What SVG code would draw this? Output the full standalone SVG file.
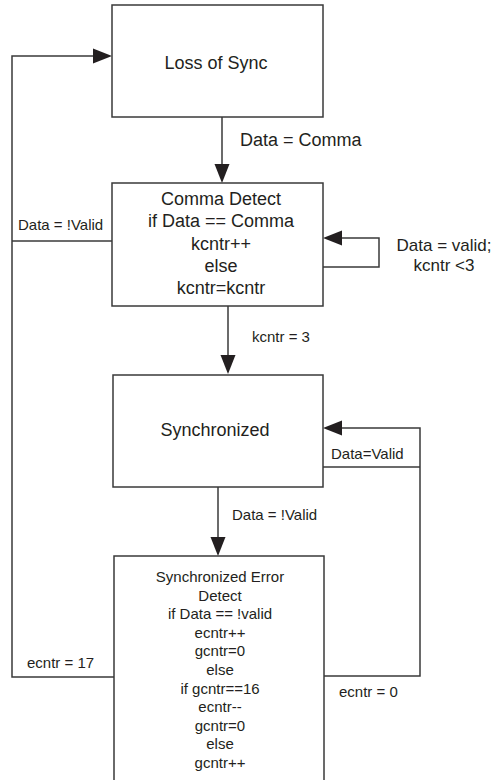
<svg xmlns="http://www.w3.org/2000/svg" width="497" height="780" viewBox="0 0 497 780">
<defs>
<style>
.box{fill:#fff;stroke:#3a3a3a;stroke-width:1.5}
.ln{fill:none;stroke:#3a3a3a;stroke-width:1.5}
.ah{fill:#231f20}
text{font-family:"Liberation Sans",Arial,sans-serif;fill:#231f20}
.big{font-size:18px}
.mid{font-size:17px}
.sm{font-size:15px}
.c{text-anchor:middle}
</style>
</defs>
<rect width="497" height="780" fill="#fff"/>
<g id="connectors">
<!-- Loss of Sync -> Comma Detect -->
<line class="ln" x1="222" y1="117" x2="222" y2="165"/>
<polygon class="ah" points="214.5,164 229.5,164 222,183"/>
<text class="big" x="240" y="146">Data = Comma</text>
<!-- return path to Loss of Sync -->
<polyline class="ln" points="112,241 12,241"/>
<polyline class="ln" points="114,677 12,677 12,56 94,56"/>
<polygon class="ah" points="93,48.5 93,63.5 112,56"/>
<text class="sm" x="18" y="230">Data = !Valid</text>
<text class="sm" x="27" y="668">ecntr = 17</text>
<!-- self loop on Comma Detect -->
<polyline class="ln" points="323,267 379,267 379,238 341,238"/>
<polygon class="ah" points="342,230.5 342,245.5 323,238"/>
<text class="mid c" x="444" y="251">Data = valid;</text>
<text class="mid c" x="444" y="271">kcntr &lt;3</text>
<!-- Comma Detect -> Synchronized -->
<line class="ln" x1="228" y1="306" x2="228" y2="356"/>
<polygon class="ah" points="220.5,355 235.5,355 228,374"/>
<text class="sm" x="252" y="342">kcntr = 3</text>
<!-- Synchronized -> Error Detect -->
<line class="ln" x1="218" y1="487" x2="218" y2="538"/>
<polygon class="ah" points="210.5,537 225.5,537 218,556"/>
<text class="sm" x="232" y="520">Data = !Valid</text>
<!-- returns to Synchronized -->
<polyline class="ln" points="323,467 420,467"/>
<polyline class="ln" points="324,676 420,676 420,428 341,428"/>
<polygon class="ah" points="342,420.5 342,435.5 323,428"/>
<text class="sm" x="331" y="459">Data=Valid</text>
<text class="sm" x="339" y="697">ecntr = 0</text>
</g>
<g id="loss-of-sync">
<rect class="box" x="112" y="5" width="211" height="112"/>
<text class="big c" x="216" y="69">Loss of Sync</text>
</g>
<g id="comma-detect">
<rect class="box" x="112" y="183" width="211" height="123"/>
<text class="big c" x="221" y="205">Comma Detect</text>
<text class="big c" x="221" y="227">if Data == Comma</text>
<text class="big c" x="221" y="250">kcntr++</text>
<text class="big c" x="221" y="272">else</text>
<text class="big c" x="221" y="294">kcntr=kcntr</text>
</g>
<g id="synchronized">
<rect class="box" x="113" y="375" width="210" height="112"/>
<text class="big c" x="215" y="436">Synchronized</text>
</g>
<g id="sync-error-detect">
<rect class="box" x="114" y="556" width="210" height="240"/>
<text class="sm c" x="220" y="582">Synchronized Error</text>
<text class="sm c" x="220" y="600.6">Detect</text>
<text class="sm c" x="220" y="619.2">if Data == !valid</text>
<text class="sm c" x="220" y="637.8">ecntr++</text>
<text class="sm c" x="220" y="656.4">gcntr=0</text>
<text class="sm c" x="220" y="675">else</text>
<text class="sm c" x="220" y="693.6">if gcntr==16</text>
<text class="sm c" x="220" y="712.2">ecntr--</text>
<text class="sm c" x="220" y="730.8">gcntr=0</text>
<text class="sm c" x="220" y="749.4">else</text>
<text class="sm c" x="220" y="768">gcntr++</text>
</g>
</svg>
